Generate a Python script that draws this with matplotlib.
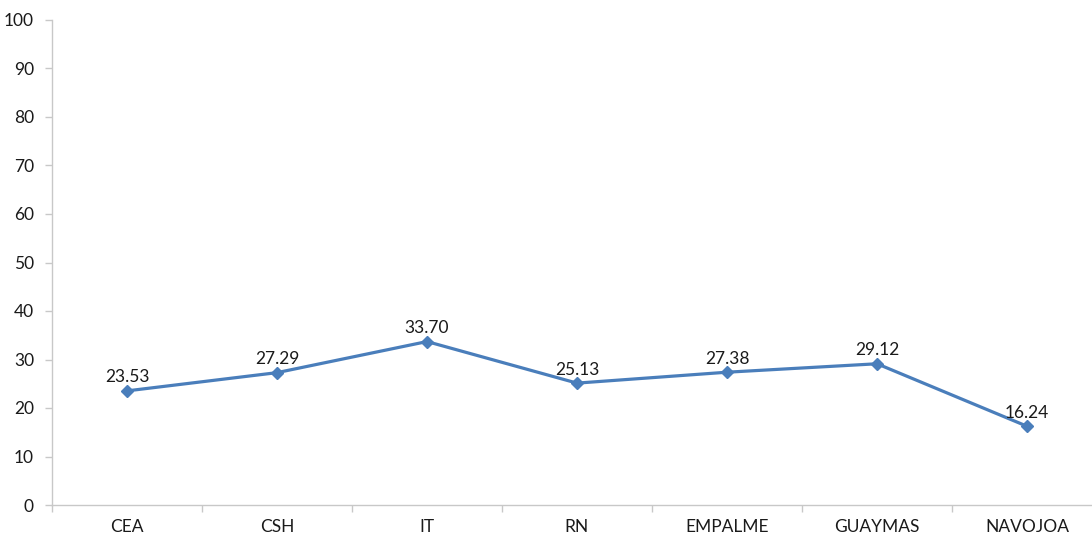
import numpy as np
import matplotlib.pyplot as plt

categories = ['CEA', 'CSH', 'IT', 'RN', 'EMPALME', 'GUAYMAS', 'NAVOJOA']
values = [23.53, 27.29, 33.70, 25.13, 27.38, 29.12, 16.24]
yticks = [0, 10, 20, 30, 40, 50, 60, 70, 80, 90, 100]

plt.rcParams['font.family'] = ['Lato', 'DejaVu Sans']

fig = plt.figure(figsize=(10.92, 5.37), dpi=100)
ax = fig.add_axes([52/1092, 1 - 505/537, 1050/1092, 485/537])

x = np.arange(len(categories))
ax.plot(x, values, color='#4a7ebb', lw=2.3, marker='D', ms=6, zorder=3)
for xi, v in zip(x, values):
    ax.annotate('%.2f' % v, (xi, v), xytext=(0, 4), textcoords='offset points',
                ha='center', va='bottom', fontsize=12.5, color='#1a1a1a')

ax.set_xlim(-0.5, len(categories) - 0.5)
ax.set_ylim(0, 100)
ax.set_yticks(yticks)
ax.set_xticks(x)
ax.set_xticklabels(categories)
ax.set_xticks(np.arange(len(categories) + 1) - 0.5, minor=True)
ax.tick_params(axis='x', which='major', length=0, pad=10, labelsize=12.5, labelcolor='#1a1a1a')
ax.tick_params(axis='x', which='minor', length=5, color='#c8c8c8', width=1)
ax.tick_params(axis='y', length=5, color='#c8c8c8', width=1, pad=8, labelsize=12.5, labelcolor='#1a1a1a')

for s in ['top', 'right']:
    ax.spines[s].set_visible(False)
for s in ['left', 'bottom']:
    ax.spines[s].set_color('#c8c8c8')
    ax.spines[s].set_linewidth(1)

fig.savefig('out.png', dpi=100)
